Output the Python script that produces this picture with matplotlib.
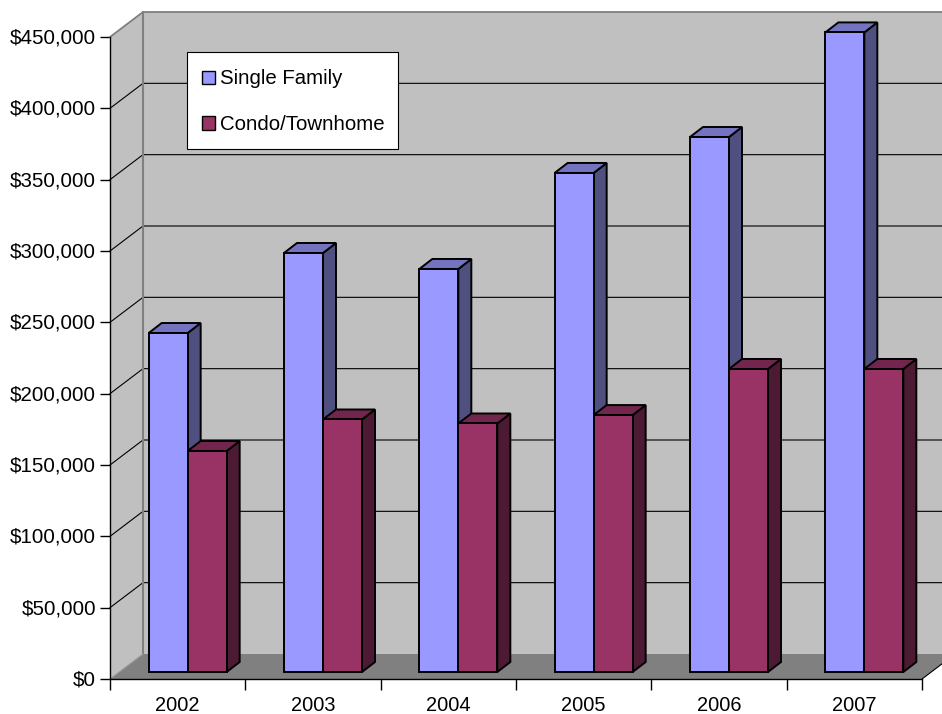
from __future__ import annotations

import matplotlib

matplotlib.use("Agg")
import matplotlib.pyplot as plt
from matplotlib.patches import Patch, Polygon, Rectangle
from matplotlib.transforms import ScaledTranslation

YEARS = ["2002", "2003", "2004", "2005", "2006", "2007"]
SINGLE_FAMILY = [237600, 293700, 282500, 349800, 375000, 448300]
CONDO_TOWNHOME = [154900, 177000, 174200, 180100, 212400, 212400]
Y_TICKS = [0, 50000, 100000, 150000, 200000, 250000, 300000, 350000, 400000, 450000]

WIDTH, HEIGHT = 942, 714
LEFT, RIGHT, TOP, BOTTOM = 110, 922, 37, 679
Y_MAX = 450000

# one pixel in data units, the fake 3d depth is easier to think about in pixels
PX_X = len(YEARS) / (RIGHT - LEFT)
PX_Y = Y_MAX / (BOTTOM - TOP)
WALL_DX, WALL_DY = 33 * PX_X, 25 * PX_Y
GAP_DX, GAP_DY = 10 * PX_X, 7 * PX_Y
BAR_DX, BAR_DY = 13 * PX_X, 10 * PX_Y
BAR_W = 39 * PX_X

WALL = "#C0C0C0"
FLOOR = "#808080"
EDGE = "#000000"
BAR_LW = 1.4
SINGLE_COLORS = ("#9999FF", "#7373BF", "#4F4F80")
CONDO_COLORS = ("#993366", "#73264D", "#4D1A33")

plt.rcParams["font.family"] = ["Liberation Sans", "DejaVu Sans"]


def add_poly(ax, points, color, edge=None, lw=0.0, z=1.0) -> None:
    ax.add_patch(
        Polygon(
            points,
            closed=True,
            facecolor=color,
            edgecolor=edge if edge else color,
            linewidth=lw,
            joinstyle="miter",
            clip_on=False,
            zorder=z,
        )
    )


def draw_walls(ax) -> None:
    x_end = len(YEARS)
    add_poly(ax, [(0, 0), (WALL_DX, WALL_DY), (WALL_DX, Y_MAX + WALL_DY), (0, Y_MAX)], WALL)
    add_poly(
        ax,
        [(WALL_DX, WALL_DY), (x_end + WALL_DX, WALL_DY), (x_end + WALL_DX, Y_MAX + WALL_DY), (WALL_DX, Y_MAX + WALL_DY)],
        WALL,
    )
    add_poly(ax, [(0, 0), (x_end, 0), (x_end + WALL_DX, WALL_DY), (WALL_DX, WALL_DY)], FLOOR)

    for tick in Y_TICKS[1:-1]:
        ax.plot(
            [0, WALL_DX, x_end + WALL_DX],
            [tick, tick + WALL_DY, tick + WALL_DY],
            color="black",
            lw=0.8,
            clip_on=False,
            zorder=1.5,
        )

    # grey outline of the wall
    ax.plot(
        [0, WALL_DX, x_end + WALL_DX],
        [Y_MAX, Y_MAX + WALL_DY, Y_MAX + WALL_DY],
        color=FLOOR,
        lw=1.3,
        clip_on=False,
        zorder=1.6,
    )
    ax.plot([WALL_DX, WALL_DX], [WALL_DY, Y_MAX + WALL_DY], color=FLOOR, lw=1.5, clip_on=False, zorder=1.6)
    ax.plot([0, WALL_DX], [0, WALL_DY], color="#999999", lw=0.8, clip_on=False, zorder=1.6)
    ax.plot([x_end, x_end + WALL_DX], [0, WALL_DY], color="black", lw=0.8, clip_on=False, zorder=1.6)


def draw_bar(ax, x: float, value: float, colors: tuple[str, str, str], z: float) -> None:
    front, top, side = colors
    x0 = x + GAP_DX
    x1 = x0 + BAR_W
    y0 = GAP_DY
    y1 = GAP_DY + value
    add_poly(ax, [(x1, y0), (x1 + BAR_DX, y0 + BAR_DY), (x1 + BAR_DX, y1 + BAR_DY), (x1, y1)], side, EDGE, BAR_LW, z)
    add_poly(ax, [(x0, y1), (x1, y1), (x1 + BAR_DX, y1 + BAR_DY), (x0 + BAR_DX, y1 + BAR_DY)], top, EDGE, BAR_LW, z)
    add_poly(ax, [(x0, y0), (x1, y0), (x1, y1), (x0, y1)], front, EDGE, BAR_LW, z)


def main() -> None:
    fig = plt.figure(figsize=(WIDTH / 100, HEIGHT / 100), dpi=100)
    ax = fig.add_axes(
        [LEFT / WIDTH, (HEIGHT - BOTTOM) / HEIGHT, (RIGHT - LEFT) / WIDTH, (BOTTOM - TOP) / HEIGHT]
    )
    ax.set_xlim(0, len(YEARS))
    ax.set_ylim(0, Y_MAX)
    ax.patch.set_visible(False)

    draw_walls(ax)

    for i, year in enumerate(YEARS):
        center = i + 0.5
        z = 2 + i * 0.1
        draw_bar(ax, center - BAR_W, SINGLE_FAMILY[i], SINGLE_COLORS, z)
        draw_bar(ax, center, CONDO_TOWNHOME[i], CONDO_COLORS, z + 0.05)

    for name in ("top", "right"):
        ax.spines[name].set_visible(False)
    for name in ("left", "bottom"):
        ax.spines[name].set_linewidth(1.0)
        ax.spines[name].set_zorder(4)

    ax.set_yticks(Y_TICKS)
    ax.set_yticklabels([f"${v:,}" for v in Y_TICKS])
    ax.tick_params(axis="y", length=7, width=1.0, pad=3, labelsize=14.8, colors="black")
    up_1px = ScaledTranslation(0, 1 / 100, fig.dpi_scale_trans)
    for label in ax.get_yticklabels():
        label.set_transform(label.get_transform() + up_1px)

    ax.set_xticks(range(len(YEARS) + 1))
    ax.set_xticklabels([])
    ax.tick_params(axis="x", which="major", length=8, width=1.0)
    ax.set_xticks([i + 0.5 for i in range(len(YEARS))], minor=True)
    ax.set_xticklabels(YEARS, minor=True)
    ax.tick_params(axis="x", which="minor", length=0, pad=12, labelsize=14.4)

    # legend box is drawn on its own so the padding can differ per side
    fig.add_artist(
        Rectangle(
            (187 / WIDTH, (HEIGHT - 149) / HEIGHT),
            211 / WIDTH,
            97 / HEIGHT,
            transform=fig.transFigure,
            facecolor="white",
            edgecolor="black",
            linewidth=0.8,
            zorder=5,
        )
    )
    handles = [
        Patch(facecolor=SINGLE_COLORS[0], edgecolor="black", linewidth=1.0, label="Single Family"),
        Patch(facecolor=CONDO_COLORS[0], edgecolor="black", linewidth=1.0, label="Condo/Townhome"),
    ]
    legend = ax.legend(
        handles=handles,
        loc="upper left",
        bbox_to_anchor=(202 / WIDTH, (HEIGHT - 69.5) / HEIGHT),
        bbox_transform=fig.transFigure,
        fontsize=14.7,
        frameon=False,
        borderpad=0,
        borderaxespad=0,
        labelspacing=1.32,
        handlelength=0.65,
        handleheight=0.65,
        handletextpad=0.25,
    )
    legend.set_zorder(6)
    # the figure level box must sit under the legend, so move the legend up to figure level too
    legend.remove()
    fig.add_artist(legend)

    fig.savefig("out.png", dpi=100, facecolor="white")
    plt.close(fig)


if __name__ == "__main__":
    main()
